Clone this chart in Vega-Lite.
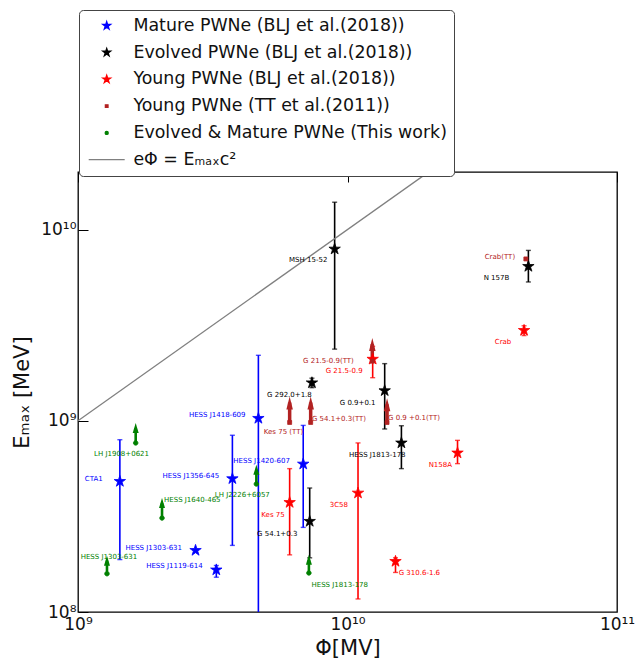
{
  "$schema": "https://vega.github.io/schema/vega-lite/v6.json",
  "width": 539,
  "height": 440,
  "autosize": {"type": "none"},
  "padding": {"left": 78, "top": 172, "right": 21, "bottom": 47},
  "background": "white",
  "config": {
    "font": "DejaVu Sans",
    "view": {"stroke": "#000000", "strokeWidth": 1.3},
    "axis": {
      "domain": false, "ticks": false, "tickSize": 0,
      "grid": true, "gridColor": "#000000", "gridWidth": 1, "gridOpacity": 1,
      "labelFont": "DejaVu Sans", "labelFontSize": 17, "labelColor": "#111111",
      "titleFont": "DejaVu Sans", "titleFontWeight": "normal", "titleColor": "#111111", "titleFontSize": 21,
      "labelOverlap": false, "labelFlush": false, "labelBound": false
    },
    "legend": {
      "orient": "none", "legendX": 1, "legendY": -162, "title": null,
      "labelFont": "DejaVu Sans", "labelFontSize": 17.4, "labelColor": "#111111", "labelLimit": 600,
      "symbolSize": 64, "symbolStrokeWidth": 1.3, "labelOffset": 18, "symbolOffset": 12,
      "rowPadding": 7.8, "padding": 7, "strokeColor": "#444444", "cornerRadius": 4, "fillColor": "#ffffff"
    },
    "text": {"font": "DejaVu Sans"}
  },
  "datasets": {
    "pwne": [
      {"name": "CTA1", "series": "Mature PWNe (BLJ et al.(2018))", "phi": 1.43e9, "emax": 4.82e8, "lo": 1.88e8, "hi": 7.96e8, "lphi": 1.06e9, "lemax": 4.98e8},
      {"name": "HESS J1303-631", "series": "Mature PWNe (BLJ et al.(2018))", "phi": 2.73e9, "emax": 2.10e8, "lphi": 1.50e9, "lemax": 2.17e8},
      {"name": "HESS J1119-614", "series": "Mature PWNe (BLJ et al.(2018))", "phi": 3.26e9, "emax": 1.66e8, "lo": 1.52e8, "hi": 1.75e8, "lphi": 1.79e9, "lemax": 1.73e8},
      {"name": "HESS J1356-645", "series": "Mature PWNe (BLJ et al.(2018))", "phi": 3.74e9, "emax": 4.98e8, "lo": 2.23e8, "hi": 8.4e8, "lphi": 2.06e9, "lemax": 5.14e8},
      {"name": "HESS J1418-609", "series": "Mature PWNe (BLJ et al.(2018))", "phi": 4.67e9, "emax": 1.03e9, "lo": 8e7, "hi": 2.2e9, "lphi": 2.58e9, "lemax": 1.067e9},
      {"name": "HESS J1420-607", "series": "Mature PWNe (BLJ et al.(2018))", "phi": 6.85e9, "emax": 5.94e8, "lo": 2.77e8, "hi": 9.46e8, "lphi": 3.77e9, "lemax": 6.13e8},
      {"name": "MSH 15-52", "series": "Evolved PWNe (BLJ et al.(2018))", "phi": 8.96e9, "emax": 7.91e9, "lo": 2.37e9, "hi": 1.39e10, "lphi": 6.07e9, "lemax": 6.9e9},
      {"name": "N 157B", "series": "Evolved PWNe (BLJ et al.(2018))", "phi": 4.69e10, "emax": 6.42e9, "lo": 5.32e9, "hi": 7.78e9, "lphi": 3.2e10, "lemax": 5.58e9},
      {"name": "G 292.0+1.8", "series": "Evolved PWNe (BLJ et al.(2018))", "phi": 7.38e9, "emax": 1.58e9, "lo": 1.49e9, "hi": 1.67e9, "lphi": 5.03e9, "lemax": 1.369e9},
      {"name": "G 0.9+0.1", "series": "Evolved PWNe (BLJ et al.(2018))", "phi": 1.374e10, "emax": 1.437e9, "lo": 9.06e8, "hi": 1.99e9, "lphi": 9.36e9, "lemax": 1.239e9},
      {"name": "HESS J1813-178", "series": "Evolved PWNe (BLJ et al.(2018))", "phi": 1.585e10, "emax": 7.66e8, "lo": 5.62e8, "hi": 9.42e8, "lphi": 1.013e10, "lemax": 6.62e8},
      {"name": "G 54.1+0.3", "series": "Evolved PWNe (BLJ et al.(2018))", "phi": 7.24e9, "emax": 2.98e8, "lo": 1.92e8, "hi": 4.45e8, "lphi": 4.62e9, "lemax": 2.57e8},
      {"name": "Crab", "series": "Young PWNe (BLJ et al.(2018))", "phi": 4.52e10, "emax": 2.97e9, "lo": 2.79e9, "hi": 3.14e9, "lphi": 3.52e10, "lemax": 2.58e9},
      {"name": "G 21.5-0.9", "series": "Young PWNe (BLJ et al.(2018))", "phi": 1.24e10, "emax": 2.1e9, "lo": 1.68e9, "hi": 2.45e9, "lphi": 8.3e9, "lemax": 1.828e9},
      {"name": "Kes 75", "series": "Young PWNe (BLJ et al.(2018))", "phi": 6.1e9, "emax": 3.74e8, "lo": 1.99e8, "hi": 5.62e8, "lphi": 4.79e9, "lemax": 3.23e8},
      {"name": "3C58", "series": "Young PWNe (BLJ et al.(2018))", "phi": 1.094e10, "emax": 4.19e8, "lo": 1.17e8, "hi": 7.66e8, "lphi": 8.59e9, "lemax": 3.63e8},
      {"name": "G 310.6-1.6", "series": "Young PWNe (BLJ et al.(2018))", "phi": 1.507e10, "emax": 1.84e8, "lo": 1.61e8, "hi": 1.92e8, "lphi": 1.549e10, "lemax": 1.592e8},
      {"name": "N158A", "series": "Young PWNe (BLJ et al.(2018))", "phi": 2.56e10, "emax": 6.79e8, "lo": 5.97e8, "hi": 7.9e8, "lphi": 2.0e10, "lemax": 5.89e8},
      {"name": "Crab(TT)", "series": "Young PWNe (TT et al.(2011))", "phi": 4.59e10, "emax": 7.02e9, "lphi": 3.23e10, "lemax": 7.15e9},
      {"name": "G 21.5-0.9(TT)", "series": "Young PWNe (TT et al.(2011))", "phi": 1.236e10, "emax": 2.05e9, "lim": 2.71e9, "lphi": 6.84e9, "lemax": 2.06e9},
      {"name": "Kes 75 (TT)", "series": "Young PWNe (TT et al.(2011))", "phi": 6.1e9, "emax": 9.8e8, "lim": 1.34e9, "lphi": 4.89e9, "lemax": 8.74e8},
      {"name": "G 54.1+0.3(TT)", "series": "Young PWNe (TT et al.(2011))", "phi": 7.3e9, "emax": 9.8e8, "lim": 1.34e9, "lphi": 7.38e9, "lemax": 1.026e9},
      {"name": "G 0.9 +0.1(TT)", "series": "Young PWNe (TT et al.(2011))", "phi": 1.402e10, "emax": 9.8e8, "lim": 1.31e9, "lphi": 1.414e10, "lemax": 1.03e9},
      {"name": "HESS J1303-631", "series": "Evolved & Mature PWNe (This work)", "phi": 1.281e9, "emax": 1.586e8, "lim": 1.97e8, "lphi": 1.023e9, "lemax": 1.946e8},
      {"name": "LH J1908+0621", "series": "Evolved & Mature PWNe (This work)", "phi": 1.637e9, "emax": 7.66e8, "lim": 9.74e8, "lphi": 1.147e9, "lemax": 6.71e8},
      {"name": "HESS J1640-465", "series": "Evolved & Mature PWNe (This work)", "phi": 2.05e9, "emax": 3.1e8, "lim": 3.95e8, "lphi": 2.085e9, "lemax": 3.83e8},
      {"name": "LH J2226+6057", "series": "Evolved & Mature PWNe (This work)", "phi": 4.59e9, "emax": 4.67e8, "lim": 5.89e8, "lphi": 3.22e9, "lemax": 4.11e8},
      {"name": "HESS J1813-178", "series": "Evolved & Mature PWNe (This work)", "phi": 7.19e9, "emax": 1.6e8, "lim": 1.99e8, "lphi": 7.35e9, "lemax": 1.384e8}
    ],
    "diagonal": [
      {"phi": 1e9, "emax": 1e9},
      {"phi": 1e11, "emax": 1e11}
    ]
  },
  "layer": [
    {
      "data": {"name": "pwne"},
      "transform": [{"filter": "isValid(datum.lo)"}],
      "mark": {"type": "rule", "strokeWidth": 1.6, "clip": true},
      "encoding": {
        "x": {"field": "phi", "type": "quantitative",
          "scale": {"type": "log", "domain": [1e9, 1e11], "nice": false},
          "axis": {"orient": "bottom", "title": "Φ[MV]", "titlePadding": 5,
            "values": [1e9, 1e10, 1e11],
            "labelExpr": "datum.value == 1e9 ? '10⁹' : datum.value == 1e10 ? '10¹⁰' : '10¹¹'",
            "gridDash": [10, 2000], "labelPadding": 4.5}},
        "y": {"field": "lo", "type": "quantitative",
          "scale": {"type": "log", "domain": [1e8, 2e10], "nice": false},
          "axis": {"orient": "left", "title": "Eₘₐₓ [MeV]", "titlePadding": 8,
            "values": [1e8, 1e9, 1e10],
            "labelExpr": "datum.value == 1e8 ? '10⁸' : datum.value == 1e9 ? '10⁹' : '10¹⁰'",
            "gridDash": [10, 2000], "labelPadding": 2}},
        "y2": {"field": "hi"},
        "color": {"field": "series", "type": "nominal", "legend": null,
          "scale": {"domain": ["Mature PWNe (BLJ et al.(2018))", "Evolved PWNe (BLJ et al.(2018))", "Young PWNe (BLJ et al.(2018))", "Young PWNe (TT et al.(2011))", "Evolved & Mature PWNe (This work)", "eΦ = Eₘₐₓc²"],
            "range": ["#0000ff", "#000000", "#ff0000", "#b22222", "#008000", "#808080"]}}
      }
    },
    {
      "data": {"name": "diagonal"},
      "mark": {"type": "line", "color": "#808080", "strokeWidth": 1.4, "clip": true},
      "encoding": {
        "x": {"field": "phi", "type": "quantitative",
          "scale": {"type": "log", "domain": [1e9, 1e11], "nice": false},
          "axis": {"orient": "top", "title": null, "labels": false, "values": [1e9, 1e10, 1e11], "gridDash": [10, 2000]}},
        "y": {"field": "emax", "type": "quantitative",
          "scale": {"type": "log", "domain": [1e8, 2e10], "nice": false},
          "axis": {"orient": "right", "title": null, "labels": false, "values": [1e8, 1e9, 1e10], "gridDash": [10, 2000]}}
      }
    },
    {
      "data": {"name": "pwne"},
      "transform": [{"filter": "isValid(datum.lo)"}],
      "mark": {"type": "tick", "orient": "horizontal", "size": 5, "thickness": 1.4, "clip": true},
      "encoding": {
        "x": {"field": "phi", "type": "quantitative", "scale": {"type": "log", "domain": [1e9, 1e11], "nice": false},
          "axis": {"orient": "bottom", "title": null, "labels": false, "gridDash": [5, 2000],
            "values": [2e9, 3e9, 4e9, 5e9, 6e9, 7e9, 8e9, 9e9, 2e10, 3e10, 4e10, 5e10, 6e10, 7e10, 8e10, 9e10]}},
        "y": {"field": "lo", "type": "quantitative", "scale": {"type": "log", "domain": [1e8, 2e10], "nice": false},
          "axis": {"orient": "left", "title": null, "labels": false, "gridDash": [5, 2000],
            "values": [2e8, 3e8, 4e8, 5e8, 6e8, 7e8, 8e8, 9e8, 2e9, 3e9, 4e9, 5e9, 6e9, 7e9, 8e9, 9e9]}},
        "color": {"field": "series", "type": "nominal", "legend": null,
          "scale": {"domain": ["Mature PWNe (BLJ et al.(2018))", "Evolved PWNe (BLJ et al.(2018))", "Young PWNe (BLJ et al.(2018))", "Young PWNe (TT et al.(2011))", "Evolved & Mature PWNe (This work)", "eΦ = Eₘₐₓc²"],
            "range": ["#0000ff", "#000000", "#ff0000", "#b22222", "#008000", "#808080"]}}
      }
    },
    {
      "data": {"name": "pwne"},
      "transform": [{"filter": "isValid(datum.hi)"}],
      "mark": {"type": "tick", "orient": "horizontal", "size": 5, "thickness": 1.4, "clip": true},
      "encoding": {
        "x": {"field": "phi", "type": "quantitative", "scale": {"type": "log", "domain": [1e9, 1e11], "nice": false},
          "axis": {"orient": "top", "title": null, "labels": false, "gridDash": [5, 2000],
            "values": [2e9, 3e9, 4e9, 5e9, 6e9, 7e9, 8e9, 9e9, 2e10, 3e10, 4e10, 5e10, 6e10, 7e10, 8e10, 9e10]}},
        "y": {"field": "hi", "type": "quantitative", "scale": {"type": "log", "domain": [1e8, 2e10], "nice": false},
          "axis": {"orient": "right", "title": null, "labels": false, "gridDash": [5, 2000],
            "values": [2e8, 3e8, 4e8, 5e8, 6e8, 7e8, 8e8, 9e8, 2e9, 3e9, 4e9, 5e9, 6e9, 7e9, 8e9, 9e9]}},
        "color": {"field": "series", "type": "nominal", "legend": null,
          "scale": {"domain": ["Mature PWNe (BLJ et al.(2018))", "Evolved PWNe (BLJ et al.(2018))", "Young PWNe (BLJ et al.(2018))", "Young PWNe (TT et al.(2011))", "Evolved & Mature PWNe (This work)", "eΦ = Eₘₐₓc²"],
            "range": ["#0000ff", "#000000", "#ff0000", "#b22222", "#008000", "#808080"]}}
      }
    },
    {
      "data": {"name": "pwne"},
      "transform": [{"filter": "isValid(datum.lim) && datum.series == 'Young PWNe (TT et al.(2011))'"}],
      "mark": {"type": "rule", "color": "#b22222", "strokeWidth": 3.5, "y2Offset": 6},
      "encoding": {
        "x": {"field": "phi", "type": "quantitative", "scale": {"type": "log", "domain": [1e9, 1e11], "nice": false}, "axis": null},
        "y": {"field": "emax", "type": "quantitative", "scale": {"type": "log", "domain": [1e8, 2e10], "nice": false}, "axis": null},
        "y2": {"field": "lim"}
      }
    },
    {
      "data": {"name": "pwne"},
      "transform": [{"filter": "isValid(datum.lim) && datum.series == 'Young PWNe (TT et al.(2011))'"}],
      "mark": {"type": "point", "filled": true, "color": "#b22222", "opacity": 1, "size": 169, "shape": "M0,0L0.5,2L-0.5,2Z"},
      "encoding": {
        "x": {"field": "phi", "type": "quantitative", "scale": {"type": "log", "domain": [1e9, 1e11], "nice": false}, "axis": null},
        "y": {"field": "lim", "type": "quantitative", "scale": {"type": "log", "domain": [1e8, 2e10], "nice": false}, "axis": null}
      }
    },
    {
      "data": {"name": "pwne"},
      "transform": [{"filter": "isValid(datum.lim) && datum.series == 'Evolved & Mature PWNe (This work)'"}],
      "mark": {"type": "rule", "color": "#008000", "strokeWidth": 2.6, "y2Offset": 5},
      "encoding": {
        "x": {"field": "phi", "type": "quantitative", "scale": {"type": "log", "domain": [1e9, 1e11], "nice": false}, "axis": null},
        "y": {"field": "emax", "type": "quantitative", "scale": {"type": "log", "domain": [1e8, 2e10], "nice": false}, "axis": null},
        "y2": {"field": "lim"}
      }
    },
    {
      "data": {"name": "pwne"},
      "transform": [{"filter": "isValid(datum.lim) && datum.series == 'Evolved & Mature PWNe (This work)'"}],
      "mark": {"type": "point", "filled": true, "color": "#008000", "opacity": 1, "size": 100, "shape": "M0,0L0.6,2L-0.6,2Z"},
      "encoding": {
        "x": {"field": "phi", "type": "quantitative", "scale": {"type": "log", "domain": [1e9, 1e11], "nice": false}, "axis": null},
        "y": {"field": "lim", "type": "quantitative", "scale": {"type": "log", "domain": [1e8, 2e10], "nice": false}, "axis": null}
      }
    },
    {
      "data": {"name": "pwne"},
      "mark": {"type": "point", "filled": true, "opacity": 1, "size": 144, "strokeWidth": 0.8},
      "encoding": {
        "x": {"field": "phi", "type": "quantitative", "scale": {"type": "log", "domain": [1e9, 1e11], "nice": false}, "axis": null},
        "y": {"field": "emax", "type": "quantitative", "scale": {"type": "log", "domain": [1e8, 2e10], "nice": false}, "axis": null},
        "color": {"field": "series", "type": "nominal",
          "legend": {"orient": "none", "legendX": 1, "legendY": -162, "title": null, "labelExpr": "datum.label + '\u00a0\u00a0\u00a0\u00a0\u00a0'"},
          "scale": {"domain": ["Mature PWNe (BLJ et al.(2018))", "Evolved PWNe (BLJ et al.(2018))", "Young PWNe (BLJ et al.(2018))", "Young PWNe (TT et al.(2011))", "Evolved & Mature PWNe (This work)", "eΦ = Eₘₐₓc²"],
            "range": ["#0000ff", "#000000", "#ff0000", "#b22222", "#008000", "#808080"]}},
        "stroke": {"field": "series", "type": "nominal",
          "legend": {"orient": "none", "legendX": 1, "legendY": -162, "title": null, "labelExpr": "datum.label + '\u00a0\u00a0\u00a0\u00a0\u00a0'"},
          "scale": {"domain": ["Mature PWNe (BLJ et al.(2018))", "Evolved PWNe (BLJ et al.(2018))", "Young PWNe (BLJ et al.(2018))", "Young PWNe (TT et al.(2011))", "Evolved & Mature PWNe (This work)", "eΦ = Eₘₐₓc²"],
            "range": ["#0000ff", "#000000", "#ff0000", "#b22222", "#008000", "#808080"]}},
        "shape": {"field": "series", "type": "nominal",
          "legend": {"orient": "none", "legendX": 1, "legendY": -162, "title": null, "labelExpr": "datum.label + '\u00a0\u00a0\u00a0\u00a0\u00a0'"},
          "scale": {"domain": ["Mature PWNe (BLJ et al.(2018))", "Evolved PWNe (BLJ et al.(2018))", "Young PWNe (BLJ et al.(2018))", "Young PWNe (TT et al.(2011))", "Evolved & Mature PWNe (This work)", "eΦ = Eₘₐₓc²"],
            "range": [
              "M0,-1L0.2245,-0.309L0.951,-0.309L0.363,0.118L0.588,0.809L0,0.382L-0.588,0.809L-0.363,0.118L-0.951,-0.309L-0.2245,-0.309Z",
              "M0,-1L0.2245,-0.309L0.951,-0.309L0.363,0.118L0.588,0.809L0,0.382L-0.588,0.809L-0.363,0.118L-0.951,-0.309L-0.2245,-0.309Z",
              "M0,-1L0.2245,-0.309L0.951,-0.309L0.363,0.118L0.588,0.809L0,0.382L-0.588,0.809L-0.363,0.118L-0.951,-0.309L-0.2245,-0.309Z",
              "M-0.33,-0.33L0.33,-0.33L0.33,0.33L-0.33,0.33Z",
              "M0.38,0A0.38,0.38,0,1,1,-0.38,0A0.38,0.38,0,1,1,0.38,0Z",
              "M-4.5,0L4.5,0"
            ]}}
      }
    },
    {
      "data": {"name": "pwne"},
      "mark": {"type": "text", "align": "left", "baseline": "middle", "fontSize": 7, "font": "DejaVu Sans"},
      "encoding": {
        "x": {"field": "lphi", "type": "quantitative", "scale": {"type": "log", "domain": [1e9, 1e11], "nice": false}, "axis": null},
        "y": {"field": "lemax", "type": "quantitative", "scale": {"type": "log", "domain": [1e8, 2e10], "nice": false}, "axis": null},
        "text": {"field": "name"},
        "color": {"field": "series", "type": "nominal", "legend": null,
          "scale": {"domain": ["Mature PWNe (BLJ et al.(2018))", "Evolved PWNe (BLJ et al.(2018))", "Young PWNe (BLJ et al.(2018))", "Young PWNe (TT et al.(2011))", "Evolved & Mature PWNe (This work)", "eΦ = Eₘₐₓc²"],
            "range": ["#0000ff", "#000000", "#ff0000", "#b22222", "#008000", "#808080"]}}
      }
    }
  ],
  "resolve": {
    "axis": {"x": "independent", "y": "independent"},
    "scale": {"color": "independent", "stroke": "independent", "shape": "independent"},
    "legend": {"color": "independent", "stroke": "independent", "shape": "independent"}
  }
}
